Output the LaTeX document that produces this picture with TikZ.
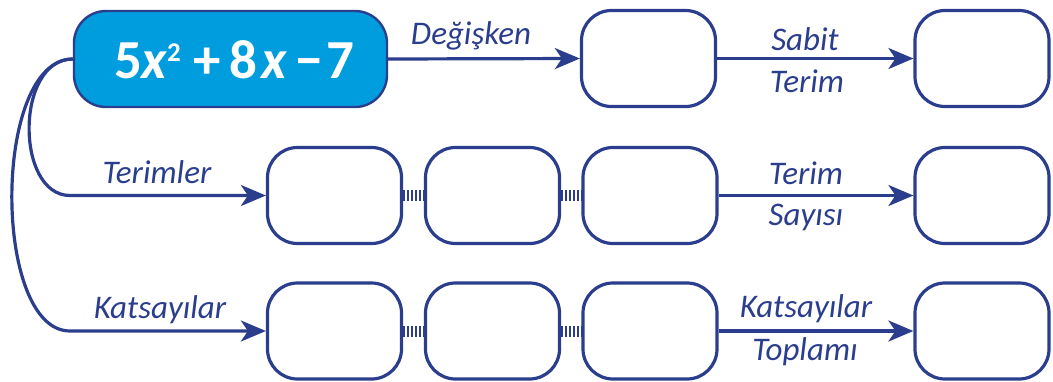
\documentclass[tikz,border=0pt]{standalone}
\usepackage{fontspec}
\setmainfont{Carlito}
\usetikzlibrary{arrows.meta}
\definecolor{navy}{RGB}{43,62,142}
\definecolor{skyfill}{RGB}{0,157,222}
\begin{document}
\begin{tikzpicture}[x=1pt,y=-1pt,
  cell/.style={draw=navy, line width=3.2pt, fill=white, rounded corners=30pt,
    minimum width=134pt, minimum height=96pt, inner sep=0pt},
  head/.style={draw=navy, line width=2.4pt, fill=skyfill, rounded corners=32pt,
    minimum width=313pt, minimum height=96pt, inner sep=0pt},
  link/.style={draw=navy, line width=3.2pt, -{Stealth[length=25pt,width=21pt,inset=7pt]}},
  chain/.style={draw=navy, line width=11pt, dash pattern=on 2pt off 2pt},
  lbl/.style={text=navy, font=\fontsize{33}{33}\selectfont\itshape, anchor=base, inner sep=0pt},
]
\useasboundingbox (0,0) rectangle (1053,381);

% expression box
\node[head] (main) at (230.5,59) {};
\node[text=white, font=\fontsize{55}{55}\selectfont\bfseries, anchor=base west, inner sep=0pt]
  (eq) at (114,78) {5\kern-1pt\textit{x}\raisebox{17pt}{\fontsize{27}{27}\selectfont 2}\hspace{13pt}+\hspace{8pt}8\hspace{5pt}\textit{x}\hspace{8pt}−\hspace{3pt}7};

% answer boxes
\node[cell] (t2) at (648.5,58.5) {};
\node[cell] (t3) at (982,58.5) {};
\node[cell] (m1) at (334.5,195.5) {};
\node[cell] (m2) at (492.5,195.5) {};
\node[cell] (m3) at (650,195.5) {};
\node[cell] (m4) at (982,195.5) {};
\node[cell] (b1) at (334.5,331) {};
\node[cell] (b2) at (492.5,331) {};
\node[cell] (b3) at (650,331) {};
\node[cell] (b4) at (982,331) {};

% turning points of the left branches
\coordinate (bend) at (70,0);

% connectors
\draw[link] (main.east) -- (t2.west);
\draw[link] (t2.east) -- (t3.west);
\draw[link] (main.west) .. controls (15,59) and (15,195.5) .. (bend |- m1.west) -- (m1.west);
\draw[link] (main.west) .. controls (-8,59) and (-8,331) .. (bend |- b1.west) -- (b1.west);
\draw[chain] (m1.east) -- (m2.west);
\draw[chain] (m2.east) -- (m3.west);
\draw[chain] (b1.east) -- (b2.west);
\draw[chain] (b2.east) -- (b3.west);
\draw[link] (m3.east) -- (m4.west);
\draw[link] (b3.east) -- (b4.west);

% labels
\node[lbl] (lvar) at (471,44) {Değişken};
\node[lbl] (lsab1) at (805,50) {Sabit};
\node[lbl] (lsab2) at (807,92) {Terim};
\node[lbl] (lter) at (157,183) {Terimler};
\node[lbl] (lkat) at (160,318) {Katsayılar};
\node[lbl] (lsay1) at (806,184) {Terim};
\node[lbl] (lsay2) at (806,225) {Sayısı};
\node[lbl] (ltop1) at (806,317) {Katsayılar};
\node[lbl] (ltop2) at (805,360) {Toplamı};
\end{tikzpicture}
\end{document}
